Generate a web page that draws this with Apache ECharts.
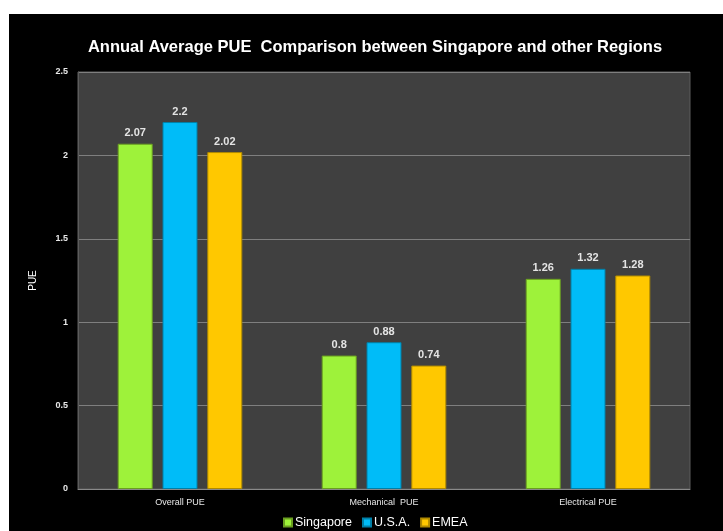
<!DOCTYPE html>
<html><head><meta charset="utf-8">
<script src="https://cdn.jsdelivr.net/npm/echarts@6/dist/echarts.min.js"></script>
<style>html,body{margin:0;padding:0;background:#fff}#c{width:723px;height:531px}</style>
</head><body><div id="c"></div>
<script>
const categories = ['Overall PUE', 'Mechanical  PUE', 'Electrical PUE'];
const singapore = [2.07, 0.8, 1.26];
const usa = [2.2, 0.88, 1.32];
const emea = [2.02, 0.74, 1.28];
const seriesNames = ['Singapore', 'U.S.A.', 'EMEA'];
const colors = ['#9ef23a', '#00bcf8', '#ffc800'];
const borders = ['#6a9f20', '#0080a8', '#b08a00'];

const chart = echarts.init(document.getElementById('c'));
function mk(i, data) {
  return {
    name: seriesNames[i], type: 'bar', data: data, barWidth: 35, barGap: '28%',
    itemStyle: { color: colors[i], borderColor: borders[i], borderWidth: 1 },
    label: { show: true, position: 'top', distance: 5, color: '#e4e4e4', fontSize: 11,
             fontFamily: 'Liberation Sans', fontWeight: 'bold' }
  };
}
chart.setOption({
  backgroundColor: '#fff',
  animation: false,
  graphic: [{ type: 'rect', z: -10, shape: { x: 9, y: 14, width: 714, height: 517 }, style: { fill: '#000' } }],
  title: {
    text: 'Annual Average PUE  Comparison between Singapore and other Regions',
    left: 370, top: 34, textAlign: 'center',
    textStyle: { color: '#fff', fontSize: 16.5, fontWeight: 'bold', fontFamily: 'Liberation Sans' }
  },
  grid: { left: 78, right: 33, top: 72, bottom: 42, show: true, backgroundColor: '#404040', borderColor: '#5c5c5c', borderWidth: 1 },
  legend: {
    bottom: -3, left: 278, itemWidth: 8, itemHeight: 8, itemGap: 10,
    icon: 'rect',
    textStyle: { color: '#fff', fontSize: 12.5, fontFamily: 'Liberation Sans', padding: [0, 0, 0, -2] },
    data: seriesNames
  },
  xAxis: {
    type: 'category', data: categories,
    axisLine: { lineStyle: { color: '#8a8a8a', width: 1 } },
    axisTick: { show: false },
    axisLabel: { color: '#e8e8e8', fontSize: 9, fontFamily: 'Liberation Sans', margin: 9 }
  },
  yAxis: {
    type: 'value', min: 0, max: 2.5, interval: 0.5, name: 'PUE', nameLocation: 'middle', nameGap: 40,
    nameTextStyle: { color: '#fff', fontSize: 10, fontFamily: 'Liberation Sans' },
    axisLine: { show: true, lineStyle: { color: '#5c5c5c' } },
    axisTick: { show: false },
    splitLine: { lineStyle: { color: '#7f7f7f', width: 1 } },
    axisLabel: { color: '#e8e8e8', fontSize: 9, fontFamily: 'Liberation Sans', fontWeight: 'bold', margin: 10 }
  },
  series: [mk(0, singapore), mk(1, usa), mk(2, emea)]
});
</script></body></html>
